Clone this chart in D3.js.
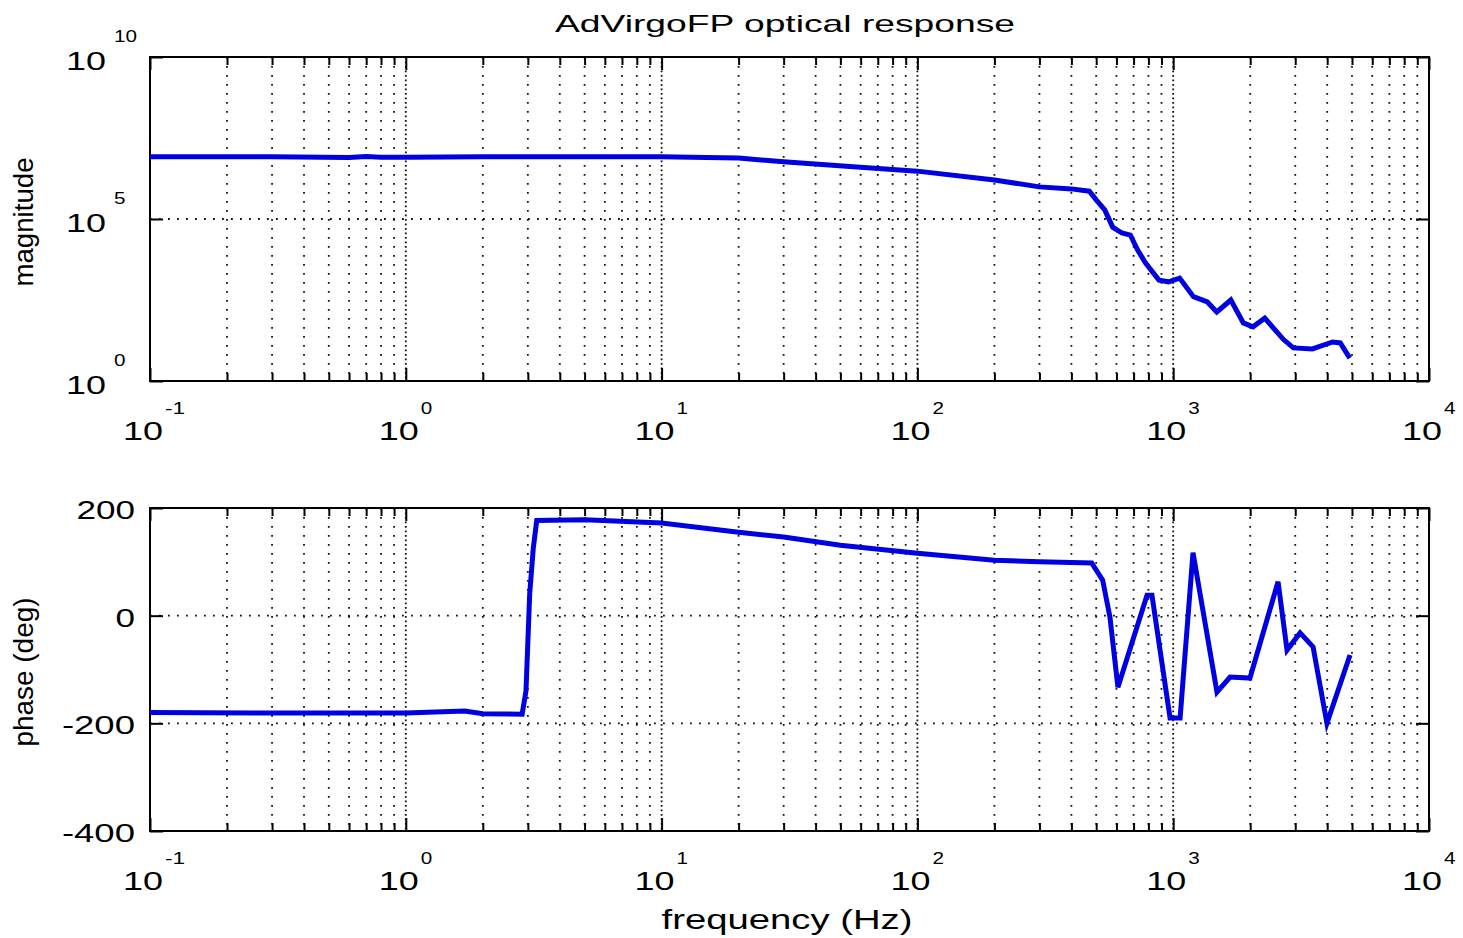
<!DOCTYPE html>
<html>
<head>
<meta charset="utf-8">
<script src="https://cdn.jsdelivr.net/npm/d3@7"></script>
<style>
body{margin:0;background:#fff}
svg{display:block}
text{font-family:"Liberation Sans",Arial,sans-serif;fill:#000}
</style>
</head>
<body>
<svg id="chart" width="1463" height="938"></svg>
<script>
// magnitude trace
var magFreq = [0.1, 0.3, 0.6, 0.7, 0.8, 1, 2, 4, 10, 15, 20, 30, 58, 100, 200, 300, 400, 470, 500,
    540, 580, 630, 680, 726, 780, 880, 960, 1060, 1200, 1360, 1480, 1680, 1880, 2050, 2280, 2700,
    2950, 3500, 4200, 4500, 4900]
var magValue = [8.3e6, 8.3e6, 7.9e6, 8.5e6, 8.1e6, 8.1e6, 8.3e6, 8.4e6, 8.3e6, 7.9e6, 7.6e6, 5.8e6,
    4.0e6, 3.0e6, 1.6e6, 9.8e5, 8.5e5, 7.2e5, 3.9e5, 1.9e5, 5.6e4, 3.7e4, 3.2e4, 1.1e4, 4.4e3,
    1.3e3, 1.15e3, 1.5e3, 400, 275, 135, 316, 62, 47, 87, 19, 10.5, 9.8, 16, 15, 5.1]

// phase trace
var phaseFreq = [0.1, 0.5, 1, 1.7, 2, 2.85, 2.95, 3.05, 3.15, 3.25, 5, 10, 20, 30, 50, 100, 200,
    300, 480, 530, 566, 608, 790, 826, 972, 1064, 1195, 1483, 1668, 1995, 2570, 2786, 3133, 3522,
    3990, 4913]
var phaseDeg = [-180, -181, -181, -177, -182, -183, -140, 40, 125, 177, 178, 172, 155, 146, 131,
    116, 103, 100, 98, 66, -3, -133, 38, 38, -190, -190, 117, -142, -114, -116, 63, -64, -32, -58,
    -200, -73]

var decades = [-1, 0, 1, 2, 3, 4]
var magExps = [0, 5, 10]
var phaseTicks = [-400, -200, 0, 200]
var title = 'AdVirgoFP optical response'

var svg = d3.select('#chart'),
    left = 150, right = 1429,
    blue = '#0000e0'

var x = d3.scaleLog().domain([0.1, 1e4]).range([left, right])
var yMag = d3.scaleLog().domain([1, 1e10]).range([381, 57])
var yPh = d3.scaleLinear().domain([-400, 200]).range([831, 508])

var major = decades.map(function(e){ return Math.pow(10, e) })
var minor = []
decades.slice(0, -1).forEach(function(e){
    for (var k = 2; k <= 9; k++) minor.push(k * Math.pow(10, e))
})

function sized(sel, size, step){
    // wide bitmap-like digits: stretch each string to a fixed pitch
    sel.attr('font-size', size)
    sel.each(function(){
        var t = d3.select(this), s = t.text(), w = 0
        for (var i = 0; i < s.length; i++) w += s[i] == '-' ? step * 0.75 : step
        t.attr('textLength', w).attr('lengthAdjust', 'spacingAndGlyphs')
    })
    return sel
}

function panel(y, yTickVals, yFmt, isLog, freq, vals, yLabel){
    var g = svg.append('g'),
        top = y.range()[1], bot = y.range()[0]

    // dotted grid
    g.selectAll(null).data(minor).enter().append('line')
        .attr('x1', x).attr('x2', x).attr('y1', top).attr('y2', bot)
        .attr('stroke', '#111').attr('stroke-width', 1.8)
        .attr('stroke-dasharray', '1.8,7.2')
    g.selectAll(null).data(major.slice(1, -1)).enter().append('line')
        .attr('x1', x).attr('x2', x).attr('y1', top).attr('y2', bot)
        .attr('stroke', '#111').attr('stroke-width', 1.8)
        .attr('stroke-dasharray', '1.8,2.7')
    g.selectAll(null).data(yTickVals.slice(1, -1)).enter().append('line')
        .attr('x1', left).attr('x2', right).attr('y1', y).attr('y2', y)
        .attr('stroke', '#111').attr('stroke-width', 1.8)
        .attr('stroke-dasharray', '1.8,7.2')

    // inward ticks on all four sides
    var axes = [
        [d3.axisBottom(x).tickValues(minor).tickSize(-8), 'translate(0,' + bot + ')'],
        [d3.axisBottom(x).tickValues(major).tickSize(-13), 'translate(0,' + bot + ')'],
        [d3.axisTop(x).tickValues(minor).tickSize(-8), 'translate(0,' + top + ')'],
        [d3.axisTop(x).tickValues(major).tickSize(-13), 'translate(0,' + top + ')'],
        [d3.axisLeft(y).tickValues(yTickVals).tickSize(-13), 'translate(' + left + ',0)'],
        [d3.axisRight(y).tickValues(yTickVals).tickSize(-13), 'translate(' + right + ',0)']
    ]
    axes.forEach(function(a){
        var ag = g.append('g').attr('transform', a[1])
            .call(a[0].tickSizeOuter(0).tickFormat(''))
        ag.select('.domain').remove()
        ag.selectAll('line').attr('stroke', '#000').attr('stroke-width', 2)
    })

    g.append('rect')
        .attr('x', left).attr('y', top)
        .attr('width', right - left).attr('height', bot - top)
        .attr('fill', 'none').attr('stroke', '#000').attr('stroke-width', 2)

    // trace
    var line = d3.line()
        .x(function(d){ return x(d[0]) })
        .y(function(d){ return y(d[1]) })
    g.append('path')
        .datum(d3.zip(freq, vals))
        .attr('d', line)
        .attr('fill', 'none').attr('stroke', blue)
        .attr('stroke-width', 5).attr('stroke-linejoin', 'miter')

    // x labels: 10 with superscript exponent
    var xl = g.selectAll(null).data(decades).enter()
    sized(xl.append('text')
        .attr('x', function(e){ return x(Math.pow(10, e)) + 13 })
        .attr('y', bot + 50)
        .attr('text-anchor', 'end').attr('dominant-baseline', 'central')
        .text('10'), 26, 20)
    sized(xl.append('text')
        .attr('x', function(e){ return x(Math.pow(10, e)) + 15 })
        .attr('y', bot + 27)
        .attr('dominant-baseline', 'central')
        .text(function(e){ return String(e) }), 16, 11.5)

    // y labels
    var yl = g.selectAll(null).data(yTickVals).enter()
    if (isLog){
        sized(yl.append('text')
            .attr('x', 106).attr('y', function(v){ return y(v) + 4 })
            .attr('text-anchor', 'end').attr('dominant-baseline', 'central')
            .text('10'), 26, 20)
        sized(yl.append('text')
            .attr('x', 114).attr('y', function(v){ return y(v) - 21 })
            .attr('dominant-baseline', 'central')
            .text(yFmt), 16, 11.5)
    } else {
        sized(yl.append('text')
            .attr('x', 135).attr('y', function(v){ return y(v) + 2 })
            .attr('text-anchor', 'end').attr('dominant-baseline', 'central')
            .text(yFmt), 26, 19.5)
    }

    svg.append('text')
        .attr('transform', 'translate(33,' + yLabel[1] + ') rotate(-90)')
        .attr('text-anchor', 'middle').attr('font-size', 27)
        .attr('textLength', yLabel[2]).attr('lengthAdjust', 'spacingAndGlyphs')
        .text(yLabel[0])
}

panel(yMag, magExps.map(function(e){ return Math.pow(10, e) }),
    function(v){ return String(Math.round(Math.log10(v))) }, true,
    magFreq, magValue, ['magnitude', 222, 129])

panel(yPh, phaseTicks, function(v){ return String(v) }, false,
    phaseFreq, phaseDeg, ['phase (deg)', 672, 149])

svg.append('text')
    .attr('x', 785).attr('y', 32)
    .attr('text-anchor', 'middle').attr('font-size', 24)
    .attr('textLength', 460).attr('lengthAdjust', 'spacingAndGlyphs')
    .text(title)

svg.append('text')
    .attr('x', 787).attr('y', 929)
    .attr('text-anchor', 'middle').attr('font-size', 27)
    .attr('textLength', 251).attr('lengthAdjust', 'spacingAndGlyphs')
    .text('frequency (Hz)')
</script>
</body>
</html>
